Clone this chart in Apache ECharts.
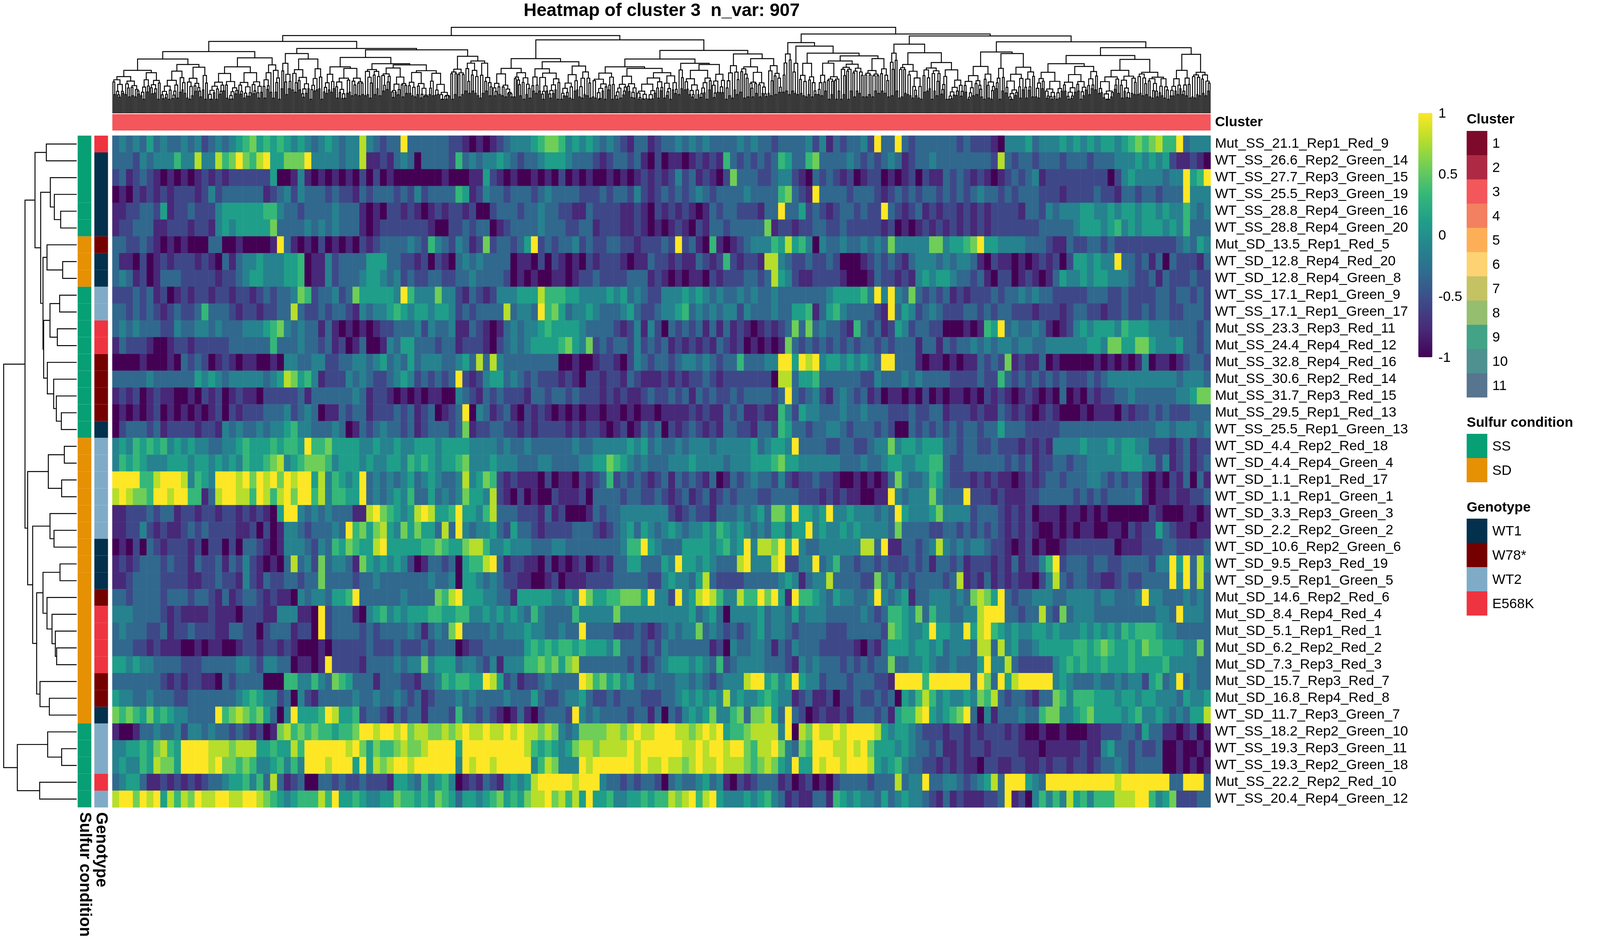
<!DOCTYPE html>
<html><head><meta charset="utf-8">
<style>html,body{margin:0;padding:0;background:#fff;overflow:hidden}#c{width:100vw;height:100vh}</style>
<script src="https://cdn.jsdelivr.net/npm/echarts@6/dist/echarts.min.js"></script>
</head><body><div id="c"></div>
<script>
const titleText = 'Heatmap of cluster 3  n_var: 907';
const rowLabels = ['Mut_SS_21.1_Rep1_Red_9','WT_SS_26.6_Rep2_Green_14','WT_SS_27.7_Rep3_Green_15','WT_SS_25.5_Rep3_Green_19','WT_SS_28.8_Rep4_Green_16','WT_SS_28.8_Rep4_Green_20','Mut_SD_13.5_Rep1_Red_5','WT_SD_12.8_Rep4_Red_20','WT_SD_12.8_Rep4_Green_8','WT_SS_17.1_Rep1_Green_9','WT_SS_17.1_Rep1_Green_17','Mut_SS_23.3_Rep3_Red_11','Mut_SS_24.4_Rep4_Red_12','Mut_SS_32.8_Rep4_Red_16','Mut_SS_30.6_Rep2_Red_14','Mut_SS_31.7_Rep3_Red_15','Mut_SS_29.5_Rep1_Red_13','WT_SS_25.5_Rep1_Green_13','WT_SD_4.4_Rep2_Red_18','WT_SD_4.4_Rep4_Green_4','WT_SD_1.1_Rep1_Red_17','WT_SD_1.1_Rep1_Green_1','WT_SD_3.3_Rep3_Green_3','WT_SD_2.2_Rep2_Green_2','WT_SD_10.6_Rep2_Green_6','WT_SD_9.5_Rep3_Red_19','WT_SD_9.5_Rep1_Green_5','Mut_SD_14.6_Rep2_Red_6','Mut_SD_8.4_Rep4_Red_4','Mut_SD_5.1_Rep1_Red_1','Mut_SD_6.2_Rep2_Red_2','Mut_SD_7.3_Rep3_Red_3','Mut_SD_15.7_Rep3_Red_7','Mut_SD_16.8_Rep4_Red_8','WT_SD_11.7_Rep3_Green_7','WT_SS_18.2_Rep2_Green_10','WT_SS_19.3_Rep3_Green_11','WT_SS_19.3_Rep2_Green_18','Mut_SS_22.2_Rep2_Red_10','WT_SS_20.4_Rep4_Green_12'];
const sulfurByRow = ['SS','SS','SS','SS','SS','SS','SD','SD','SD','SS','SS','SS','SS','SS','SS','SS','SS','SS','SD','SD','SD','SD','SD','SD','SD','SD','SD','SD','SD','SD','SD','SD','SD','SD','SD','SS','SS','SS','SS','SS'];
const genotypeByRow = ['E568K','WT1','WT1','WT1','WT1','WT1','W78*','WT1','WT1','WT2','WT2','E568K','E568K','W78*','W78*','W78*','W78*','WT1','WT2','WT2','WT2','WT2','WT2','WT2','WT1','WT1','WT1','W78*','E568K','E568K','E568K','E568K','W78*','W78*','WT1','WT2','WT2','WT2','E568K','WT2'];
const clusterNames = ['1','2','3','4','5','6','7','8','9','10','11'];
const clusterColors = ['#7D0A2B','#AE2A44','#F3565B','#F38060','#FDAF57','#FDD272','#C5C263','#95BE6F','#43A386','#4F9090','#57758F'];
const sulfurNames = ['SS','SD'];
const sulfurColors = ['#079F74','#E69003'];
const genotypeNames = ['WT1','W78*','WT2','E568K'];
const genotypeColors = ['#03304C','#750000','#80ABC7','#EE3440'];
const colorbarTicks = [1, 0.5, 0, -0.5, -1];
const viridis = ['#440154','#482878','#3e4989','#31688e','#26828e','#1f9e89','#35b779','#6ece58','#b5de2b','#fde725'];
const levelValues = [-1,-0.78,-0.56,-0.33,-0.11,0.11,0.33,0.56,0.78,1];

// Estimated colour level (0 = -1 ... 9 = +1), 160 bins across.
const heatLeft = [
'3434353433 4342343456 7565654543 4543448432 3393333332 2101012344 4567764545 4343213312',
'3332434446 4484486797 6895577794 4443448112 1343033332 6343445432 3345554333 2123323102',
'2312321010 1012121222 2225001410 1010102020 1000000010 0011521010 0101020101 0010101212',
'0102121212 2212423333 3312342433 3232213233 3232423333 6512433233 3234333322 2323324212',
'1122332512 2322245555 5566433233 3343331010 2212101212 2120023332 3343322113 2222112102',
'1223331122 2122145455 5557333343 4343331012 2222221002 2323301233 3343332233 1222112101',
'3322321010 1000330010 0001931010 2010102123 3334326432 4312723323 5923233423 2233221222',
'3110201212 2212103134 4544455601 1423333555 3322120210 3434333301 1020210102 1222101132',
'3431201333 2222212234 5544455601 1423334554 3423223322 3343333201 0100110122 3222233312',
'2223231201 2122122122 1232334762 3342375555 5496444744 2132124445 5586665544 4454534322',
'3323232123 2236333212 2122338322 3233214344 5654554554 2323333834 4396753445 4333453223',
'3434333224 3344343334 4456743433 1310101012 2333424334 1132101343 4456555543 3332124142',
'1322210012 2122222333 3336333433 2312013001 4355333233 1222102343 4555567547 2323324232',
'0000100010 3232012101 1001044334 4223344345 3435344433 4538384333 3333300100 1221024323',
'3333343333 3354543444 4434587564 1222434322 3454232323 9212455343 2322212102 2122132111',
'1212012110 0102120121 1022222313 3333343122 1010101100 4321323222 1332332322 2121211232',
'0101012010 1010120212 2233342343 0113233122 2323123012 3904312310 2121010101 1011010110',
'0233323122 2212214343 3434456443 3343013234 3323123332 3712233221 2122221212 2101201323',
'4546565645 4544334456 5556566596 6755554454 4544555455 5544443433 4333333433 4444454534',
'4656544455 5455454546 5567845677 7645554544 5546565455 6744454443 3344333344 5576543433',
'9999668999 8465499989 7989798995 8465459343 4345345433 4845762121 1102011021 2362323212',
'8987769989 9661389988 6986897996 8466559343 4546335343 4755482102 0100211120 3333233223',
'1122232331 2212212212 1210599434 3433311897 6545898556 9554683332 2213120001 3233444444',
'1122421211 2323222211 2020144323 3343967578 5475755383 9434453253 3212222333 2123453543',
'0102032122 2120220203 3210144432 4365765589 5555566765 5788644544 4333443333 3333466954',
'1212333232 2132231324 2101038342 7344317545 4542013323 0566893122 1102010120 1213355333',
'1123333222 2112232214 2132233233 7333323343 3333334334 0554343221 1001201112 2223333322',
'3323333233 3233213123 3212110434 4355693333 3343333768 9555443315 5555445497 5566777594',
'4443333212 1111211102 2211444110 9233310456 4545556655 6644545454 3643333644 4447444444',
'3433322312 2322211332 2023331220 9233332323 3334313437 9333343444 5443343393 3332223212',
'3332212111 0010110012 2122121000 1022222322 2322232333 0122333333 5656566565 5546333232',
'5545443333 2223333344 3244330110 1922221333 3434474555 3443241444 6676757833 3333323123',
'3333333212 1221103233 3300066446 4376533313 3322133465 6655985231 2234333398 6756453343',
'5443343332 2333333345 6544230421 3333343343 3432312333 4343333433 3532234453 2232333222',
'7676575654 4333396787 6753049555 6985562332 1323313332 6332321013 1023332943 4333323313',
'1001334334 2443433232 1201786767 6656679989 9897887787 8988988989 8878743477 7788789889',
'4455657865 9999888788 8556558699 9999897576 6787789999 5999999999 8656545788 7888898999',
'4544658775 9999897767 6445646499 9899959587 8998999999 4989989999 9468744498 9999998988',
'3455311212 1212334556 4638312300 3323223222 1554364564 0121321454 5899999899 9433232332',
'8997989586 8798899889 9876545666 8695565445 5766565765 3554567565 7889786859 5564455656'
];
const heatRight = [
'3343434333 3434332333 3424132334 2933932333 3332322210 4445344454 5454554567 6786693444',
'0110121216 3232323653 3673333432 3234312334 3333333328 3233233323 3323334445 4545211210',
'1242312102 7333223442 1032321201 2201012021 1323212101 2323412222 2222202454 4443449569',
'3232343233 3343333673 2193333233 3212323233 2323234332 3233322212 2223221332 3323339444',
'1212101323 3222133933 5232123323 2293212312 1221212122 2213324344 4554454554 5545446434',
'0121021332 3333371221 2233223222 2212010121 2121212122 2222233333 4555456454 5554546333',
'3292310610 1234446585 6404334334 3437444447 7455679554 4443332113 2233232222 2222234354',
'2121132126 2122188432 2322320001 2323213444 3434431021 1010121202 5545449332 3130322213',
'1010110212 2233238542 1122221000 1322121454 5543323102 2012101354 4545544432 2313222322',
'4445454343 3434334333 3333455556 4949437323 2312122232 3343433222 2233322322 2233233232',
'4456343434 4243334335 5613564333 3219354234 3222332323 3222122212 3322122322 3233223332',
'0323231313 1210121237 3734332163 2312542332 2000101659 3433431012 4545554655 5444333323',
'3121212132 1201010173 2323232323 3232333133 1323343434 4344334444 4455477557 7544453323',
'3234434323 3633344995 9894554545 4399333101 1010113232 7121130100 0001010101 4011012332',
'2121223212 2222220883 5563333332 2433343433 3322223226 3232323232 2232344444 4444434443',
'2323132322 3233332393 2342134323 1201101020 1011010212 1012101030 1021223343 3333344577',
'1111212113 2311211642 5443334334 3332223223 3122212113 2121012100 0101110212 2323222333',
'0212321213 3221332653 3233443233 3232003232 3232332335 3332222233 3333333333 3344344434',
'3343444344 4445345549 3333223322 3447455455 5332332232 2212121444 4544454554 4222123122',
'3444544443 4445556755 4444443334 3345544556 6322333333 2323122332 3344444555 4424123123',
'3132321301 3234332421 2232210010 1013743346 5322212121 1012123323 3344323233 1010213031',
'2123123123 2333223333 2221212110 0119434447 4333922212 1112233333 2323233334 1011211223',
'4212322133 3434537759 5545944544 4343954445 7444423332 1212011101 1010100000 0210001101',
'4543445465 4543435535 5945445454 4443733332 2332323232 1212100101 0110011021 2253211011',
'3335555456 4594887969 4334444448 8391133234 8434344322 1012010012 2222220111 2223322223',
'5495545433 3894448922 4493463323 3232223231 3323122212 1312246923 3323322333 3244959384',
'4544358322 2233333454 1344833332 2734232333 3238121312 1211024832 3322112322 3333949383',
'4294589864 4866979519 6654354433 4943451334 4434378759 3233444334 4443443334 9443334343',
'4444534530 4444534435 3444333334 3236654736 4433448999 3323383273 4443333333 3344394443',
'3434473432 3234534432 3333222333 3327654459 5544958965 4544554544 4545454656 6654433333',
'4333333120 4334431324 3332222210 2135554554 5344438838 4533455555 6656765565 7665554473',
'4555454362 3444433321 4343332323 2337334454 3343335944 8322222456 5655655565 5556444433',
'3344343234 4489956459 5442333233 3221999969 9999939739 5899999454 3334334344 2563493433',
'3345454548 4544565441 2311202232 2323054686 4544547683 2332133764 6665554554 5544435445',
'0324545744 6737785393 2012112133 3231566895 4567930413 3343367744 5675555456 4454343558',
'9988789895 6678888490 8798898999 9854554322 2122121222 1210010010 0011222332 5331101201',
'9998898998 9976889743 7699988989 7555454332 3112122122 2211101111 1211453323 2230010010',
'9887898898 8876787549 5598998999 8545643322 1212110221 1221121221 2212334323 3330010101',
'0343345341 0212333120 1201023333 2333834493 3443234583 9995439999 9999998999 9999339993',
'6878968954 4454564312 1133165454 4353454432 1312111223 9120464648 5646668889 9645722233'
];

// Left dendrogram: [merge height, left, right], a plain number is a row (1-based).
const rowTree = [219,
  [155,
    [125, [91,1,2],
      [108,
        [79,3,[67,4,[48,5,6]]],
        [101,
          [89,7,[42,8,9]],
          [99,
            [80,[51,10,11],[58,12,13]],
            [88,14,[69,15,[61,16,[46,17,18]]]]]]]],
    [147,
      [85,[37,19,20],[45,21,22]],
      [132,
        [80,23,[68,24,25]],
        [120,
          [101,[50,26,27],[89,28,[74,29,[64,30,[60,31,32]]]]],
          [110,33,[82,34,35]]]]]],
  [178,[87,36,[45,37,38]],[111,39,40]]];

// Top dendrogram: [merge height, left, right]; a pair [leaf count, height] is a dense sub-clump.
const colTree = [220,
 [199,
  [184,
   [158,
    [139,[110,[23,94],[17,104]],[125,[21,108],[18,118]]],
    [142,[119,[25,102],[20,104]],[124,[8,104],[7,110]]]],
   [166,
    [153,[9,128],[26,139]],
    [162.5,
     [143,[119,[10,100],[24,115]],[127,[14,112],[57,124]]],
     [146,[12,113],[23,134]]]]],
  [188,
   [140,[115,[17,101],[15,104]],[132,[114,[6,93],[18,103]],[121,[15,99],[11,106]]]],
   [161,
    [139,
     [119,[19,103],[115,[18,95],[34,104]]],
     [128,[5,111],[125,[23,110],[11,100]]]],
    [152,[12,122],[140,[23,119],[12,122]]]]]],
 [203,
  [181,[8,152],[172,[6,128],[154,[15,128],[147,[39,134],[21,140]]]]],
  [198,
   [177,[7,154],[155,[20,125],[34,130]]],
   [183,
    [157,[26,120],[153,[8,115],[25,118]]],
    [168,
     [148,[127,[23,105],[29,120]],[138,[32,110],[27,105]]],
     [151,[18,110],[16,105]]]]]]];
// Estimated shape digits for the fine branches of the top dendrogram.
const combDigits = '3718264950172846395027184639251807364925186043719258360471928536047193826405917382640591837264059183726415096372815490362718450936271584093627158493026175849302617584930261758493062715849360271584936027148593602714859360271485936027148593620714859362071485936207148593620741859362074185936207418593620741859';
</script>
<script>
// Reference layout is 4800x2400; scale to the window the page actually gets.
const W = window.innerWidth, H = window.innerHeight;
const sx = W / 4800, sy = H / 2400, fs = Math.min(sx, sy);
const X = v => v * sx, Y = v => v * sy;
const heatData = [];
rowLabels.forEach((_, r) => {
  const s = (heatLeft[r] + heatRight[r]).replace(/\s/g, '');
  if (s.length !== 160) throw new Error('row ' + r + ' len ' + s.length);
  for (let c = 0; c < 160; c++) heatData.push([c, r, levelValues[+s[c]]]);
});
const colIdx = Array.from({length: 160}, (_, i) => i);

function rowSegments(tree) {
  const out = [];
  (function walk(n) {
    if (typeof n === 'number') return {p: n - 0.5, h: 0};
    const a = walk(n[1]), b = walk(n[2]);
    out.push([a.h, b.h, a.p, b.p, n[0]]);
    return {p: (a.p + b.p) / 2, h: n[0]};
  })(tree);
  return out;
}
function colSegments(tree) {
  const out = [];
  let cursor = 0, di = 0;
  const dig = () => +combDigits[(di++) % combDigits.length];
  function clump(count, h) {
    if (count === 1) { const p = cursor + 0.5; cursor++; return {p, h: 0}; }
    const d = dig(), e = dig();
    if (count === 2) h = Math.min(h, 36 + 3 * d);
    const nl = count === 2 ? 1 : Math.max(1, Math.min(count - 1, Math.round(count * (0.3 + 0.045 * d))));
    const ch = Math.max(36, h * (0.76 + 0.022 * e));
    const a = clump(nl, ch), b = clump(count - nl, Math.max(36, ch * (0.9 + 0.02 * d)));
    out.push([a.p, b.p, a.h, b.h, h]);
    return {p: (a.p + b.p) / 2, h};
  }
  function walk(n) {
    if (n.length === 2) return clump(n[0], n[1]);
    const a = walk(n[1]), b = walk(n[2]);
    out.push([a.p, b.p, a.h, b.h, n[0]]);
    return {p: (a.p + b.p) / 2, h: n[0]};
  }
  walk(tree);
  return {segs: out, total: cursor};
}
const rowSegs = rowSegments(rowTree);
const colBuilt = colSegments(colTree);
const LINE = {stroke: '#000', lineWidth: 2.4, fill: null};

const FF = '"Liberation Sans"';
const FS = 41.67 * fs;
const annotData = rowLabels.map((_, r) => [0, r, sulfurColors[sulfurNames.indexOf(sulfurByRow[r])]]);
const annotData2 = rowLabels.map((_, r) => [0, r, genotypeColors[genotypeNames.indexOf(genotypeByRow[r])]]);
function cellRender(params, api) {
  const p = api.coord([api.value(0), api.value(1)]);
  const s = api.size([1, 1]);
  return {type: 'rect', shape: {x: p[0] - s[0] / 2, y: p[1] - s[1] / 2, width: s[0], height: s[1]},
    style: {fill: api.value(2)}};
}

const g = [];
function legendBlock(title, titleY, top, names, colors) {
  g.push({type: 'text', x: X(4400), y: Y(titleY), silent: true,
    style: {text: title, font: `bold ${FS}px ${FF}`, fill: '#000', verticalAlign: 'middle', align: 'left'}});
  names.forEach((n, i) => {
    g.push({type: 'rect', silent: true, shape: {x: X(4400), y: Y(top + 62 * i), width: X(62), height: Y(62)}, style: {fill: colors[i]}});
    g.push({type: 'text', x: X(4477), y: Y(top + 62 * i + 33), silent: true,
      style: {text: n, font: `${FS}px ${FF}`, fill: '#000', verticalAlign: 'middle', align: 'left'}});
  });
}
legendBlock('Cluster', 306, 335, clusterNames, clusterColors);
legendBlock('Sulfur condition', 1082, 1110, sulfurNames, sulfurColors);
legendBlock('Genotype', 1299, 1327, genotypeNames, genotypeColors);
colorbarTicks.forEach(v => {
  g.push({type: 'text', x: X(4315), y: Y(914 - (v + 1) / 2 * 625 + 2), silent: true,
    style: {text: String(v), font: `${FS}px ${FF}`, fill: '#000', verticalAlign: 'middle', align: 'left'}});
});

const hiddenVal = (gi, extra) => Object.assign({type: 'value', gridIndex: gi, show: false, scale: false}, extra);
const option = {
  animation: false,
  backgroundColor: '#fff',
  title: {text: titleText, left: X(1985), top: Y(5), textAlign: 'center', padding: 0,
    textStyle: {fontFamily: FF, fontWeight: 'bold', fontSize: 54 * fs, color: '#000'}},
  tooltip: {show: false},
  grid: [
    {left: X(337), top: Y(347), width: X(3295), height: Y(1719)},
    {left: X(233), top: Y(347), width: X(41), height: Y(1719)},
    {left: X(283), top: Y(347), width: X(41), height: Y(1719)},
    {left: X(337), top: Y(292), width: X(3295), height: Y(42)},
    {left: X(337), top: Y(68), width: X(3295), height: Y(222)},
    {left: 0, top: Y(347), width: X(230), height: Y(1719)}
  ],
  xAxis: [
    {type: 'category', gridIndex: 0, data: colIdx, show: false},
    {type: 'category', gridIndex: 1, data: ['Sulfur condition'], axisLine: {show: false}, axisTick: {show: false},
      axisLabel: {rotate: -90, margin: 12, interval: 0, fontFamily: FF, fontWeight: 'bold', fontSize: 41.67 * sy, color: '#000'}},
    {type: 'category', gridIndex: 2, data: ['Genotype'], axisLine: {show: false}, axisTick: {show: false},
      axisLabel: {rotate: -90, margin: 12, interval: 0, fontFamily: FF, fontWeight: 'bold', fontSize: 41.67 * sy, color: '#000'}},
    {type: 'category', gridIndex: 3, data: ['3'], show: false},
    hiddenVal(4, {min: 0, max: colBuilt.total}),
    hiddenVal(5, {min: 0, max: 230, inverse: true})
  ],
  yAxis: [
    {type: 'category', gridIndex: 0, data: rowLabels, inverse: true, position: 'right',
      axisLine: {show: false}, axisTick: {show: false},
      axisLabel: {margin: X(13), interval: 0, fontFamily: FF, fontSize: FS, color: '#000'}},
    {type: 'category', gridIndex: 1, data: rowLabels, inverse: true, show: false},
    {type: 'category', gridIndex: 2, data: rowLabels, inverse: true, show: false},
    {type: 'category', gridIndex: 3, data: ['Cluster'], position: 'right', axisLine: {show: false}, axisTick: {show: false},
      axisLabel: {margin: X(13), interval: 0, fontFamily: FF, fontWeight: 'bold', fontSize: FS, color: '#000'}},
    hiddenVal(4, {min: 0, max: 222}),
    hiddenVal(5, {min: 0, max: 40, inverse: true})
  ],
  visualMap: {type: 'continuous', seriesIndex: 0, min: -1, max: 1, left: X(4255), top: Y(289), padding: 0,
    itemWidth: X(42), itemHeight: Y(625), calculable: false, hoverLink: false, text: null, showLabel: false,
    inRange: {color: viridis}},
  graphic: g,
  series: [
    {type: 'heatmap', xAxisIndex: 0, yAxisIndex: 0, data: heatData, silent: true, progressive: 0,
      itemStyle: {borderWidth: 0}, emphasis: {disabled: true}},
    {type: 'custom', xAxisIndex: 1, yAxisIndex: 1, data: annotData, renderItem: cellRender, silent: true},
    {type: 'custom', xAxisIndex: 2, yAxisIndex: 2, data: annotData2, renderItem: cellRender, silent: true},
    {type: 'custom', xAxisIndex: 3, yAxisIndex: 3, data: [[0, 0, clusterColors[2]]], renderItem: cellRender, silent: true},
    {type: 'custom', xAxisIndex: 4, yAxisIndex: 4, data: colBuilt.segs, silent: true, progressive: 0, clip: false,
      renderItem(params, api) {
        const xa = api.value(0), xb = api.value(1), ha = api.value(2), hb = api.value(3), h = api.value(4);
        const pts = [api.coord([xa, ha]), api.coord([xa, h]), api.coord([xb, h]), api.coord([xb, hb])];
        return {type: 'polyline', shape: {points: pts}, style: LINE};
      }},
    {type: 'custom', xAxisIndex: 5, yAxisIndex: 5, data: rowSegs, silent: true, progressive: 0, clip: false,
      renderItem(params, api) {
        const ha = api.value(0), hb = api.value(1), pa = api.value(2), pb = api.value(3), h = api.value(4);
        const pts = [api.coord([ha, pa]), api.coord([h, pa]), api.coord([h, pb]), api.coord([hb, pb])];
        return {type: 'polyline', shape: {points: pts}, style: LINE};
      }}
  ]
};
const chart = echarts.init(document.getElementById('c'), null, {renderer: 'canvas', width: W, height: H, devicePixelRatio: 1});
chart.setOption(option);
</script>
</body></html>
